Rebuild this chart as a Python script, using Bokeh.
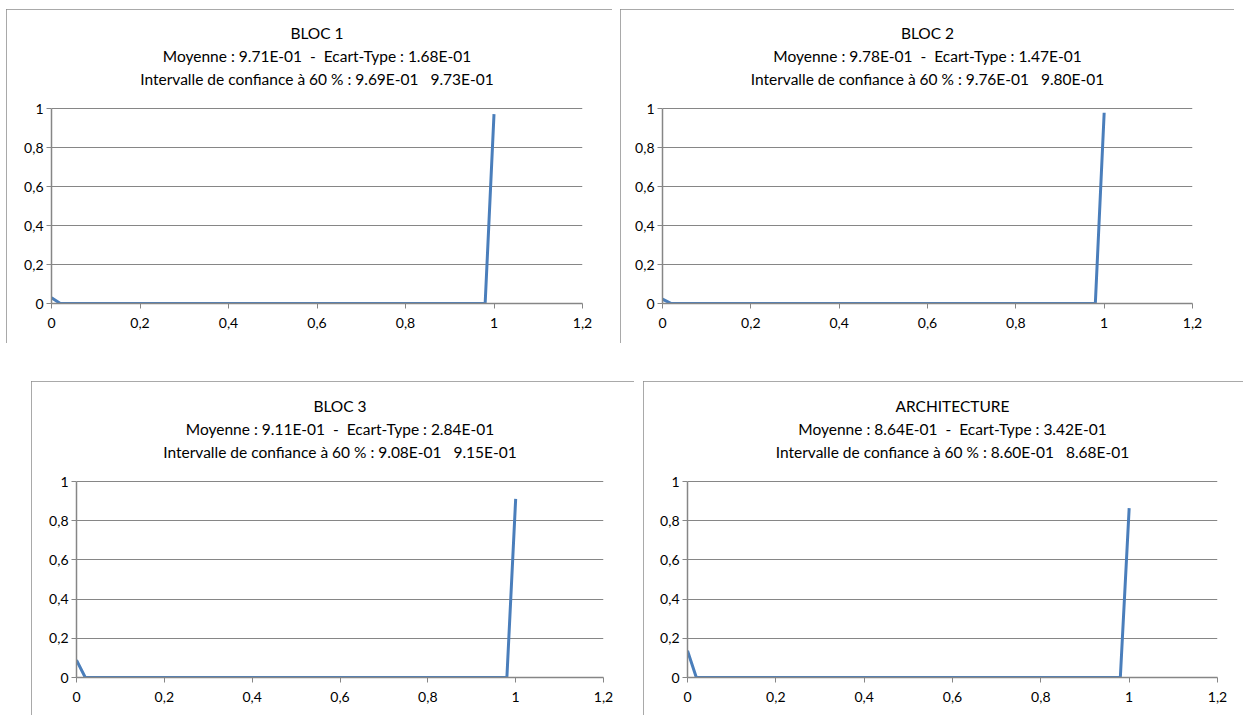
from bokeh.plotting import figure
from bokeh.models import Label, FixedTicker, Range1d
from bokeh.layouts import column, row
from bokeh.embed import file_html
from bokeh.resources import INLINE

x_values = [0.00, 0.02, 0.04, 0.06, 0.08, 0.10, 0.12, 0.14, 0.16, 0.18,
            0.20, 0.22, 0.24, 0.26, 0.28, 0.30, 0.32, 0.34, 0.36, 0.38,
            0.40, 0.42, 0.44, 0.46, 0.48, 0.50, 0.52, 0.54, 0.56, 0.58,
            0.60, 0.62, 0.64, 0.66, 0.68, 0.70, 0.72, 0.74, 0.76, 0.78,
            0.80, 0.82, 0.84, 0.86, 0.88, 0.90, 0.92, 0.94, 0.96, 0.98, 1.00]

bloc1 = [0.029, 0, 0, 0, 0, 0, 0, 0, 0, 0,
         0, 0, 0, 0, 0, 0, 0, 0, 0, 0,
         0, 0, 0, 0, 0, 0, 0, 0, 0, 0,
         0, 0, 0, 0, 0, 0, 0, 0, 0, 0,
         0, 0, 0, 0, 0, 0, 0, 0, 0, 0, 0.971]
bloc2 = [0.022, 0, 0, 0, 0, 0, 0, 0, 0, 0,
         0, 0, 0, 0, 0, 0, 0, 0, 0, 0,
         0, 0, 0, 0, 0, 0, 0, 0, 0, 0,
         0, 0, 0, 0, 0, 0, 0, 0, 0, 0,
         0, 0, 0, 0, 0, 0, 0, 0, 0, 0, 0.978]
bloc3 = [0.089, 0, 0, 0, 0, 0, 0, 0, 0, 0,
         0, 0, 0, 0, 0, 0, 0, 0, 0, 0,
         0, 0, 0, 0, 0, 0, 0, 0, 0, 0,
         0, 0, 0, 0, 0, 0, 0, 0, 0, 0,
         0, 0, 0, 0, 0, 0, 0, 0, 0, 0, 0.911]
architecture = [0.136, 0, 0, 0, 0, 0, 0, 0, 0, 0,
                0, 0, 0, 0, 0, 0, 0, 0, 0, 0,
                0, 0, 0, 0, 0, 0, 0, 0, 0, 0,
                0, 0, 0, 0, 0, 0, 0, 0, 0, 0,
                0, 0, 0, 0, 0, 0, 0, 0, 0, 0, 0.864]

chart_names = ["BLOC 1", "BLOC 2", "BLOC 3", "ARCHITECTURE"]
means = ["9.71E-01", "9.78E-01", "9.11E-01", "8.64E-01"]
stds = ["1.68E-01", "1.47E-01", "2.84E-01", "3.42E-01"]
ci_low = ["9.69E-01", "9.76E-01", "9.08E-01", "8.60E-01"]
ci_high = ["9.73E-01", "9.80E-01", "9.15E-01", "8.68E-01"]

x_ticks = [0, 0.2, 0.4, 0.6, 0.8, 1, 1.2]
x_tick_labels = ["0", "0,2", "0,4", "0,6", "0,8", "1", "1,2"]
y_ticks = [0, 0.2, 0.4, 0.6, 0.8, 1]
y_tick_labels = ["0", "0,2", "0,4", "0,6", "0,8", "1"]

series = [bloc1, bloc2, bloc3, architecture]

FONT = "Lato"
GRAY = "#868686"
BLUE = "#4a7ebb"
NB = "\u00a0"
X_MIN, X_MAX, Y_MIN, Y_MAX = 0, 1.2, 0, 1
FIG_TOP = 4  # small border above the title area


def make_chart(i, width, height, left, right, top, bottom, margin):
    # the frame is extended upward to hold the three title lines;
    # the axis and the grid stay bounded to 0..1
    px_per_unit = (height - top - bottom) / (Y_MAX - Y_MIN)
    y_end = Y_MAX + (top - FIG_TOP) / px_per_unit
    p = figure(width=width, height=height, output_backend="svg",
               toolbar_location=None, x_range=Range1d(X_MIN, X_MAX), y_range=Range1d(Y_MIN, y_end),
               min_border_left=left, min_border_right=right,
               min_border_top=FIG_TOP, min_border_bottom=bottom,
               background_fill_color="white", border_fill_color="white",
               outline_line_color=None, margin=margin,
               styles={"outline": "1px solid #8c8c8c", "outline-offset": "-1px"})
    lines = [
        chart_names[i],
        "Moyenne : %s " % means[i] + NB + "-" + NB + " Ecart-Type : %s" % stds[i],
        "Intervalle de confiance à 60 %% : %s " % ci_low[i] + NB + NB + "%s" % ci_high[i],
    ]
    px_above = [75.5, 52.5, 29.5]
    for txt, off in zip(lines, px_above):
        p.add_layout(Label(x=(X_MIN + X_MAX) / 2, y=Y_MAX + off / px_per_unit,
                           text=txt, text_align="center", text_baseline="middle",
                           text_font=FONT, text_font_size="15.5px", text_color="black"))

    p.line(x_values, series[i], line_color=BLUE, line_width=3)

    p.xaxis.ticker = FixedTicker(ticks=x_ticks)
    p.xaxis.major_label_overrides = {t: l for t, l in zip(x_ticks, x_tick_labels)}
    p.yaxis.ticker = FixedTicker(ticks=y_ticks)
    p.yaxis.major_label_overrides = {t: l for t, l in zip(y_ticks, y_tick_labels)}
    p.yaxis.bounds = (Y_MIN, Y_MAX)
    for ax in (p.xaxis, p.yaxis):
        ax.axis_line_color = GRAY
        ax.axis_line_width = 1.5
        ax.major_tick_line_color = GRAY
        ax.major_tick_out = 5
        ax.major_tick_in = 0
        ax.minor_tick_line_color = None
        ax.major_label_text_font = FONT
        ax.major_label_text_font_size = "14px"
        ax.major_label_text_color = "black"
    p.xaxis.major_label_standoff = 9
    p.yaxis.major_label_standoff = 3
    p.xgrid.visible = False
    p.ygrid.grid_line_color = GRAY
    p.ygrid.grid_line_width = 1
    return p


p1 = make_chart(0, 606, 334, 45, 30, 99, 40, (9, 0, 0, 6))
p2 = make_chart(1, 614, 334, 42, 42, 99, 40, (9, 0, 0, 8))
p3 = make_chart(2, 603, 334, 45, 31, 100, 38, (38, 0, 0, 31))
p4 = make_chart(3, 600, 334, 44, 26, 100, 38, (38, 0, 0, 9))

layout = column(row(p1, p2), row(p3, p4))

open("out.html", "w").write(file_html(layout, INLINE))
